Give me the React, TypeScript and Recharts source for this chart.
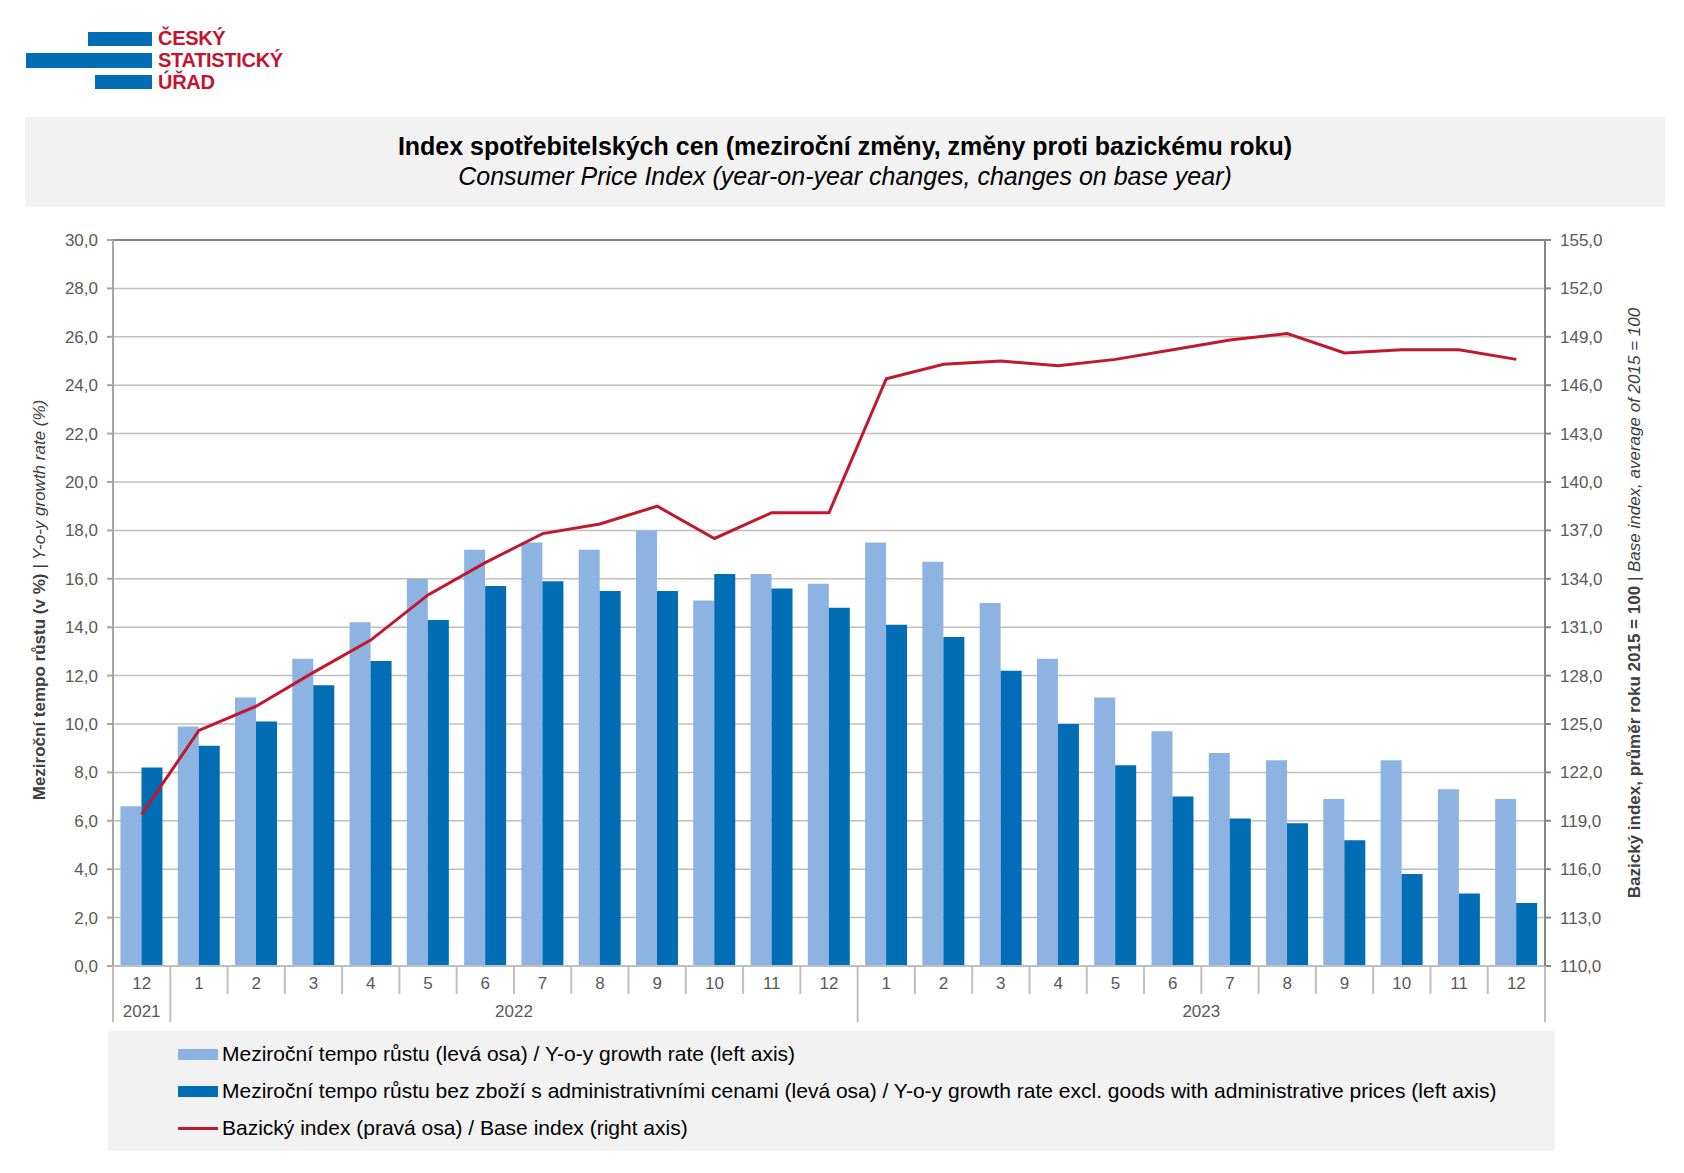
import React from "react";
import {
  ComposedChart,
  Bar,
  Line,
  XAxis,
  YAxis,
  CartesianGrid,
  ReferenceLine,
} from "recharts";

// category labels
const monthLabels = ["12", "1", "2", "3", "4", "5", "6", "7", "8", "9", "10", "11", "12", "1", "2", "3", "4", "5", "6", "7", "8", "9", "10", "11", "12"];
const yearLabels = ["2021", "2022", "2022", "2022", "2022", "2022", "2022", "2022", "2022", "2022", "2022", "2022", "2022", "2023", "2023", "2023", "2023", "2023", "2023", "2023", "2023", "2023", "2023", "2023", "2023"];

// series
const yoyRate = [6.6, 9.9, 11.1, 12.7, 14.2, 16.0, 17.2, 17.5, 17.2, 18.0, 15.1, 16.2, 15.8, 17.5, 16.7, 15.0, 12.7, 11.1, 9.7, 8.8, 8.5, 6.9, 8.5, 7.3, 6.9];
const yoyExclAdmin = [8.2, 9.1, 10.1, 11.6, 12.6, 14.3, 15.7, 15.9, 15.5, 15.5, 16.2, 15.6, 14.8, 14.1, 13.6, 12.2, 10.0, 8.3, 7.0, 6.1, 5.9, 5.2, 3.8, 3.0, 2.6];
const baseIndex = [119.4, 124.6, 126.1, 128.2, 130.2, 133.0, 135.0, 136.8, 137.4, 138.5, 136.5, 138.1, 138.1, 146.4, 147.3, 147.5, 147.2, 147.6, 148.2, 148.8, 149.2, 148.0, 148.2, 148.2, 147.6];

// axis ticks
const leftTicks = [0, 2, 4, 6, 8, 10, 12, 14, 16, 18, 20, 22, 24, 26, 28, 30];
const rightTicks = [110, 113, 116, 119, 122, 125, 128, 131, 134, 137, 140, 143, 146, 149, 152, 155];

const data = monthLabels.map((m, i) => ({
  key: `${yearLabels[i]}-${m}`,
  month: m,
  year: yearLabels[i],
  yoy: yoyRate[i],
  excl: yoyExclAdmin[i],
  base: baseIndex[i],
}));

const W = 1684;
const H = 1173;
const PLOT_LEFT = 113;
const PLOT_RIGHT = 1545;
const PLOT_TOP = 240;
const PLOT_BOTTOM = 966;
const BAND = (PLOT_RIGHT - PLOT_LEFT) / data.length;
const FONT = '"Liberation Sans", Arial, sans-serif';

const fmt = (v: number) => v.toFixed(1).replace(".", ",");

const MonthTick = (props: any) => {
  const { x, y, payload } = props;
  const i = payload.index;
  const half = BAND / 2;
  const yearStart = i === 0 || yearLabels[i] !== yearLabels[i - 1];
  const last = i === data.length - 1;
  let yearText = null;
  if (yearStart) {
    let len = 1;
    while (i + len < yearLabels.length && yearLabels[i + len] === yearLabels[i]) len++;
    yearText = (
      <text x={x + ((len - 1) / 2) * BAND} y={y + 51} textAnchor="middle" fill="#595959" fontSize={17} fontFamily={FONT}>
        {yearLabels[i]}
      </text>
    );
  }
  return (
    <g>
      <line x1={x - half} x2={x - half} y1={y} y2={y + (yearStart ? 56 : 28)} stroke="#bfbfbf" strokeWidth={2} />
      {last && <line x1={x + half} x2={x + half} y1={y} y2={y + 56} stroke="#bfbfbf" strokeWidth={2} />}
      <text x={x} y={y + 23} textAnchor="middle" fill="#595959" fontSize={17} fontFamily={FONT}>
        {monthLabels[i]}
      </text>
      {yearText}
    </g>
  );
};

const legendItems = [
  { label: "Meziroční tempo růstu (levá osa) / Y-o-y growth rate (left axis)", color: "#8db3e2", type: "bar" },
  {
    label: "Meziroční tempo růstu bez zboží s administrativními cenami (levá osa) / Y-o-y growth rate excl. goods with administrative prices (left axis)",
    color: "#006db5",
    type: "bar",
  },
  { label: "Bazický index (pravá osa) / Base index (right axis)", color: "#c0192d", type: "line" },
];

export default function App() {
  return (
    <div style={{ position: "absolute", left: 0, top: 0, width: W, height: H, background: "#fff", fontFamily: FONT, overflow: "hidden" }}>
      {/* logo */}
      <div style={{ position: "absolute", left: 88, top: 32, width: 64, height: 14, background: "#006db5" }} />
      <div style={{ position: "absolute", left: 26, top: 53, width: 126, height: 15, background: "#006db5" }} />
      <div style={{ position: "absolute", left: 95, top: 75, width: 57, height: 14, background: "#006db5" }} />
      <div style={{ position: "absolute", left: 158, top: 27, color: "#c4122f", fontWeight: 700, fontSize: 20, lineHeight: "22px", letterSpacing: -0.3 }}>
        <div>ČESKÝ</div>
        <div>STATISTICKÝ</div>
        <div>ÚŘAD</div>
      </div>

      {/* title */}
      <div style={{ position: "absolute", left: 25, top: 117, width: 1640, height: 90, background: "#f2f2f2", textAlign: "center", color: "#000" }}>
        <div style={{ fontWeight: 700, fontSize: 25, marginTop: 14, lineHeight: "30px" }}>
          Index spotřebitelských cen (meziroční změny, změny proti bazickému roku)
        </div>
        <div style={{ fontStyle: "italic", fontSize: 25, lineHeight: "30px" }}>
          Consumer Price Index (year-on-year changes, changes on base year)
        </div>
      </div>

      <div style={{ position: "absolute", left: 0, top: 0 }}>
        <ComposedChart
          width={W}
          height={H}
          data={data}
          margin={{ top: PLOT_TOP, bottom: H - PLOT_BOTTOM - 58, left: PLOT_LEFT - 60, right: W - PLOT_RIGHT - 60 }}
          barCategoryGap="13%"
          barGap={0}
        >
          <CartesianGrid yAxisId="left" vertical={false} stroke="#bfbfbf" strokeWidth={1.5} />
          <XAxis
            dataKey="key"
            interval={0}
            height={58}
            tickSize={0}
            tickMargin={0}
            tickLine={false}
            axisLine={{ stroke: "#bfbfbf", strokeWidth: 2 }}
            tick={<MonthTick />}
          />
          <YAxis
            yAxisId="left"
            width={60}
            domain={[0, 30]}
            ticks={leftTicks}
            interval={0}
            tickFormatter={fmt}
            tickSize={6}
            tickMargin={9}
            axisLine={{ stroke: "#a6a6a6", strokeWidth: 2 }}
            tickLine={{ stroke: "#a6a6a6", strokeWidth: 2 }}
            tick={{ fill: "#595959", fontSize: 17, fontFamily: FONT }}
          />
          <YAxis
            yAxisId="right"
            orientation="right"
            width={60}
            domain={[110, 155]}
            ticks={rightTicks}
            interval={0}
            tickFormatter={fmt}
            tickSize={6}
            tickMargin={9}
            axisLine={{ stroke: "#868686", strokeWidth: 2 }}
            tickLine={{ stroke: "#868686", strokeWidth: 2 }}
            tick={{ fill: "#595959", fontSize: 17, fontFamily: FONT }}
          />
          <ReferenceLine yAxisId="left" y={30} stroke="#868686" strokeWidth={2} />
          <Bar yAxisId="left" dataKey="yoy" fill="#8db3e2" isAnimationActive={false} />
          <Bar yAxisId="left" dataKey="excl" fill="#006db5" isAnimationActive={false} />
          <Line
            yAxisId="right"
            dataKey="base"
            stroke="#c0192d"
            strokeWidth={3}
            dot={false}
            activeDot={false}
            isAnimationActive={false}
          />
        </ComposedChart>
      </div>

      {/* axis titles */}
      <div
        style={{
          position: "absolute",
          left: 40,
          top: 600,
          transform: "translate(-50%, -50%) rotate(-90deg)",
          whiteSpace: "nowrap",
          fontSize: 17,
          color: "#404040",
        }}
      >
        <span style={{ fontWeight: 700 }}>Meziroční tempo růstu (v %)</span>
        <span style={{ fontStyle: "italic" }}> | Y-o-y growth rate (%)</span>
      </div>
      <div
        style={{
          position: "absolute",
          left: 1635,
          top: 603,
          transform: "translate(-50%, -50%) rotate(-90deg)",
          whiteSpace: "nowrap",
          fontSize: 17,
          color: "#404040",
        }}
      >
        <span style={{ fontWeight: 700 }}>Bazický index, průměr roku 2015 = 100</span>
        <span style={{ fontStyle: "italic" }}> | Base index, average of 2015 = 100</span>
      </div>

      {/* legend */}
      <div
        style={{
          position: "absolute",
          left: 108,
          top: 1031,
          width: 1447,
          height: 120,
          background: "#f2f2f2",
          borderRadius: 3,
        }}
      >
        {legendItems.map((it, k) => (
          <div key={k} style={{ position: "absolute", left: 70, top: 23 + k * 37 - 12, height: 24, display: "flex", alignItems: "center" }}>
            <div style={{ width: 40, height: it.type === "bar" ? 11 : 3, background: it.color }} />
            <span style={{ fontSize: 21, color: "#000", marginLeft: 4 }}>{it.label}</span>
          </div>
        ))}
      </div>
    </div>
  );
}
